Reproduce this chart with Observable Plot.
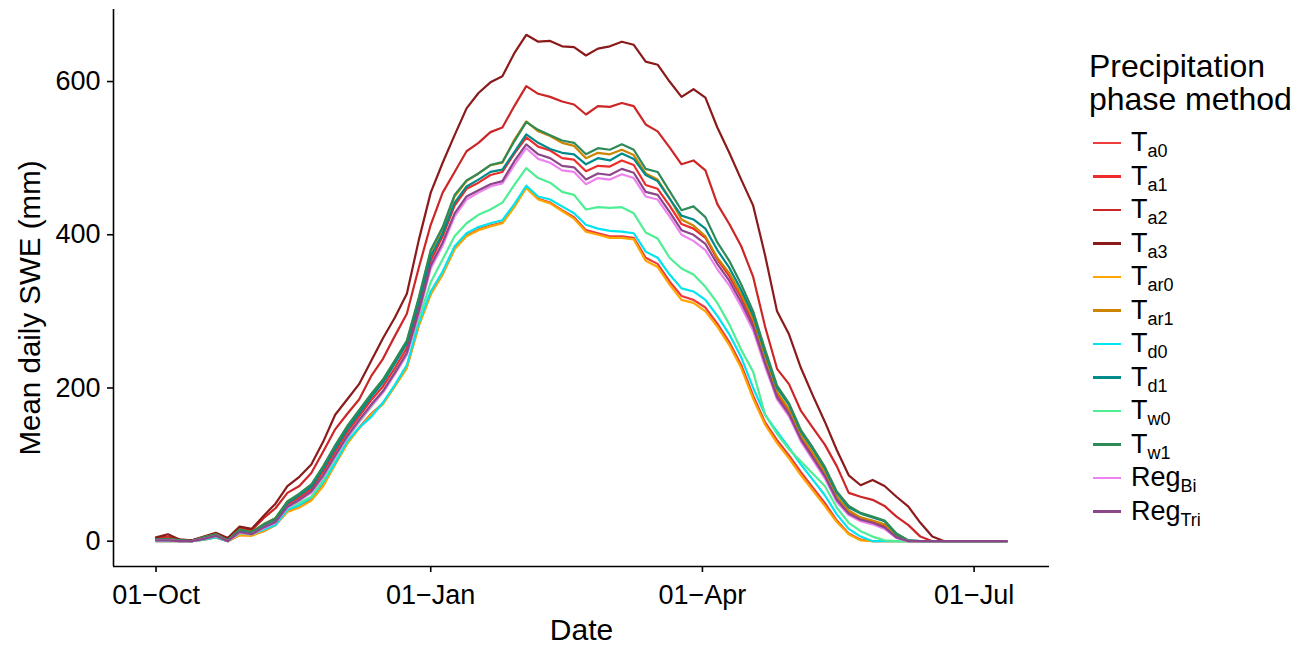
<!DOCTYPE html>
<html><head><meta charset="utf-8">
<script src="https://cdn.jsdelivr.net/npm/d3@7"></script>
<script src="https://cdn.jsdelivr.net/npm/@observablehq/plot@0.6"></script>
<style>
body{margin:0;background:#fff;font-family:"Liberation Sans",Arial,sans-serif;}
#wrap{position:relative;width:1307px;height:649px;overflow:hidden;}
#legend{position:absolute;left:1089px;top:50px;color:#000;}
.lt{font-size:32px;line-height:33px;white-space:nowrap;}
.items{margin-top:10px;}
.it{display:flex;align-items:center;height:33.5px;}
.key{width:28px;height:2.5px;margin-left:4px;margin-right:10px;}
.lab{font-size:27px;line-height:1;white-space:nowrap;}
.lab sub{font-size:18px;vertical-align:-6px;line-height:0;}
</style></head><body><div id="wrap"><div id="legend"></div></div>
<script>
// sampling grid: days after 01-Oct
const startDate = "2015-10-01";
const dayOffsets = d3.range(0, 285, 4).concat([285]);

const methods  = ["Ta0","Ta1","Ta2","Ta3","Tar0","Tar1","Td0","Td1","Tw0","Tw1","RegBi","RegTri"];
const labelMain = ["T","T","T","T","T","T","T","T","T","T","Reg","Reg"];
const labelSub  = ["a0","a1","a2","a3","ar0","ar1","d0","d1","w0","w1","Bi","Tri"];
const colors = ["#EE3B3B","#EE2C2C","#CD2626","#8B1A1A","#FFA500","#CD8500","#00E5EE","#008B8B","#4EEE94","#2E8B57","#EE82EE","#8B4789"];

const xTicks = ["2015-10-01","2016-01-01","2016-04-01","2016-07-01"];
const yTicks = [0, 200, 400, 600];

const Ta0 = [0,0,0,0,2,5,0,8,8,13, 21,39,45,54,73,101,128,148,166,180, 203,227,282,323,349,382,399,407,412,416, 437,462,447,442,432,423,406,402,398,398, 396,370,362,339,320,315,305,284,260,230, 190,155,132,112,90,70,50,27,10,2, 0,0,0,0,0,0,0,0,0,0, 0,0,0];
const Ta1 = [1,2,0,0,4,8,1,13,10,20, 27,48,57,68,91,117,142,163,184,202, 226,252,306,366,398,438,460,468,478,482, 506,527,515,510,500,498,483,490,489,497, 491,465,460,438,414,408,396,368,346,318, 285,236,192,170,136,112,88,57,39,30, 26,20,6,0,0,0,0,0,0,0, 0,0,0];
const Ta2 = [4,6,2,1,5,10,3,17,14,30, 43,63,72,89,117,146,166,185,215,238, 268,297,357,413,455,482,509,520,534,540, 568,594,584,580,574,570,557,568,567,572, 568,544,535,514,492,497,484,440,414,385, 345,280,225,205,170,148,126,98,63,58, 54,46,32,21,6,0,0,0,0,0, 0,0,0];
const Ta3 = [5,9,2,1,6,11,4,19,16,33, 49,72,84,100,130,165,185,205,235,265, 292,323,393,455,494,530,565,585,599,607, 637,661,652,653,646,645,634,643,646,652, 648,626,622,600,580,590,579,540,507,472, 438,373,300,270,226,190,156,119,86,73, 80,72,58,45,24,6,0,0,0,0, 0,0,0];
const Tar0 = [0,0,0,0,2,5,0,8,7,13, 21,38,44,53,72,100,127,147,165,179, 202,226,281,322,348,381,398,406,411,415, 436,461,446,441,431,421,404,400,396,396, 394,366,358,335,315,311,300,280,256,226, 186,152,128,108,86,66,46,25,9,1, 0,0,0,0,0,0,0,0,0,0, 0,0,0];
const Tar1 = [2,3,1,0,5,9,1,15,12,22, 30,52,61,73,97,124,149,170,191,210, 235,260,316,378,408,450,470,480,491,494, 524,548,535,529,520,516,500,507,505,511, 504,480,472,448,420,412,398,370,350,322, 290,240,195,172,138,115,90,58,40,31, 27,22,7,0,0,0,0,0,0,0, 0,0,0];
const Td0 = [0,0,0,0,2,5,0,12,9,15, 21,41,47,57,77,102,130,148,162,181, 204,230,285,326,352,385,402,410,415,419, 440,464,450,446,437,428,413,408,405,404, 402,378,370,348,330,326,315,294,270,240, 200,165,143,122,100,80,60,35,16,6, 0,0,0,0,0,0,0,0,0,0, 0,0,0];
const Td1 = [2,2,1,0,4,8,1,14,11,21, 29,50,60,71,95,121,146,167,188,207, 232,258,312,372,402,442,463,472,482,485, 508,531,520,512,507,505,492,500,497,506, 499,478,470,447,425,420,408,380,357,328, 295,246,200,178,143,120,95,63,44,36, 31,26,9,1,0,0,0,0,0,0, 0,0,0];
const Tw0 = [1,1,0,0,3,6,0,10,9,18, 25,44,50,58,80,108,134,155,175,195, 220,245,290,338,368,398,415,426,433,442, 465,487,474,468,456,452,433,436,435,436, 428,403,395,370,356,348,332,311,283,250, 221,165,140,120,104,88,72,44,24,13, 6,1,0,0,0,0,0,0,0,0, 0,0,0];
const Tw1 = [2,3,1,0,5,9,1,15,12,22, 30,52,62,74,98,125,150,171,192,211, 236,262,318,380,410,452,471,480,491,495, 522,547,537,530,523,520,505,513,511,518, 511,486,482,457,432,437,423,390,366,335, 300,250,203,180,145,122,97,65,46,37, 32,27,10,1,0,0,0,0,0,0, 0,0,0];
const RegBi = [1,1,0,0,3,7,0,11,9,17, 24,44,53,63,84,110,135,156,176,194, 218,243,296,356,386,424,446,455,463,467, 491,513,499,494,484,482,466,474,472,479, 474,450,446,424,400,392,380,355,334,306, 275,228,185,163,130,106,82,51,34,26, 22,16,4,0,0,0,0,0,0,0, 0,0,0];
const RegTri = [1,1,0,0,3,7,0,12,9,18, 25,45,54,65,86,112,137,158,178,196, 220,246,300,360,390,428,450,458,466,470, 496,518,505,500,490,488,472,480,478,486, 481,456,452,430,406,400,388,362,340,312, 280,232,188,166,133,109,85,54,36,28, 24,18,5,0,0,0,0,0,0,0, 0,0,0];

const seriesList = [Ta0,Ta1,Ta2,Ta3,Tar0,Tar1,Td0,Td1,Tw0,Tw1,RegBi,RegTri];

const start = new Date(startDate + "T00:00:00Z");
const rows = methods.flatMap((m, k) => seriesList[k].map((v, i) => ({
  method: m, date: d3.utcDay.offset(start, dayOffsets[i]), swe: v
})));

const DAY = 864e5;
const lastDay = d3.max(dayOffsets);
const xPad = lastDay * 0.05;
const xDomain = [new Date(+start - xPad * DAY), new Date(+start + (lastDay + xPad) * DAY)];
const yMax = d3.max(rows, d => d.swe);
const yDomain = [-0.05 * yMax, yMax * 1.05];
const fmt = d3.utcFormat("%d\u2212%b");

const chart = Plot.plot({
  width: 1307, height: 649,
  marginLeft: 113, marginRight: 258, marginTop: 9, marginBottom: 83,
  style: {fontFamily: "'Liberation Sans', Arial, sans-serif", background: "#fff", color: "#000"},
  x: {type: "utc", domain: xDomain},
  y: {domain: yDomain},
  color: {domain: methods, range: colors},
  marks: [
    Plot.lineY(rows, {x: "date", y: "swe", z: "method", stroke: "method", strokeWidth: 2.2, strokeLinejoin: "round"}),
    Plot.ruleY([yDomain[0]], {stroke: "#000", strokeWidth: 1.6}),
    Plot.ruleX([xDomain[0]], {stroke: "#000", strokeWidth: 1.6}),
    Plot.axisX({ticks: xTicks.map(s => new Date(s + "T00:00:00Z")), tickFormat: fmt, tickSize: 6, tickPadding: 12, fontSize: 27, label: null, strokeWidth: 1.6}),
    Plot.axisY({ticks: yTicks, tickSize: 6, tickPadding: 7, fontSize: 27, label: null, strokeWidth: 1.6}),
    Plot.text(["Date"], {frameAnchor: "bottom", dy: 73, fontSize: 30, fill: "#000"}),
    Plot.text(["Mean daily SWE (mm)"], {frameAnchor: "left", textAnchor: "middle", rotate: -90, dx: -83, dy: 20, fontSize: 29.5, fill: "#000"})
  ]
});
document.getElementById("wrap").prepend(chart);

// legend
const lg = document.getElementById("legend");
lg.innerHTML = `<div class="lt">Precipitation<br>phase method</div><div class="items">` +
  methods.map((m, k) => `<div class="it"><div class="key" style="background:${colors[k]}"></div><div class="lab">${labelMain[k]}<sub>${labelSub[k]}</sub></div></div>`).join("") +
  `</div>`;
</script>
</body></html>
